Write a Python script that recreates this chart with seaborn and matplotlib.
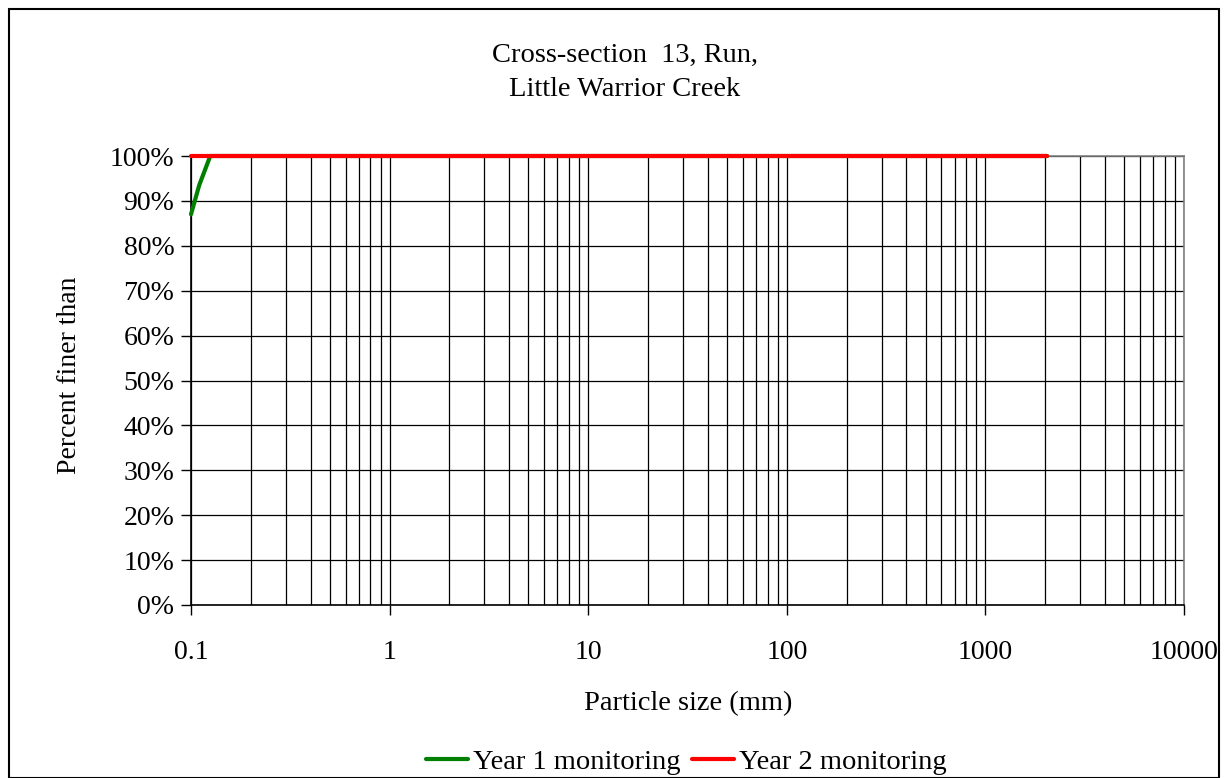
import matplotlib
matplotlib.use("Agg")
import matplotlib.pyplot as plt
import seaborn as sns
import pandas as pd
from matplotlib.ticker import FuncFormatter, LogLocator, FixedLocator
from matplotlib.patches import Rectangle

sns.set_theme(style="white")
plt.rcParams['font.family'] = ['Liberation Serif', 'DejaVu Serif']
plt.rcParams['text.color'] = 'black'
plt.rcParams['xtick.color'] = 'black'
plt.rcParams['ytick.color'] = 'black'
plt.rcParams['axes.labelcolor'] = 'black'

year1_size = [0.1, 0.11, 0.125, 0.25, 2048]
year1_pct = [0.87, 0.935, 1.0, 1.0, 1.0]
year2_size = [0.1, 0.25, 2048]
year2_pct = [1.0, 1.0, 1.0]

df = pd.concat([
    pd.DataFrame({"size": year1_size, "pct": year1_pct, "series": "Year 1 monitoring"}),
    pd.DataFrame({"size": year2_size, "pct": year2_pct, "series": "Year 2 monitoring"}),
])

W, H = 1228, 778
fig = plt.figure(figsize=(W / 100, H / 100), dpi=100)
ax = fig.add_axes([191 / W, 1 - 605 / H, (1184 - 191) / W, (605 - 156) / H])

ax.set_xscale("log")
ax.set_xlim(0.1, 10000)
ax.set_ylim(0, 1.0)

sns.lineplot(data=df, x="size", y="pct", hue="series",
             palette={"Year 1 monitoring": "#008000", "Year 2 monitoring": "#FF0000"},
             linewidth=3, ax=ax, sort=False, estimator=None, legend=True, zorder=5, clip_on=False)

ax.xaxis.set_major_locator(LogLocator(base=10, numticks=10))
ax.xaxis.set_minor_locator(LogLocator(base=10, subs=range(2, 10), numticks=100))
ax.xaxis.set_major_formatter(FuncFormatter(lambda v, p: f"{v:g}"))
ax.xaxis.set_minor_formatter(FuncFormatter(lambda v, p: ""))
ax.yaxis.set_major_locator(FixedLocator([i / 10 for i in range(11)]))
ax.yaxis.set_major_formatter(FuncFormatter(lambda v, p: f"{v*100:.0f}%"))

ax.grid(True, which="both", axis="x", color="black", linewidth=0.9)
ax.grid(True, which="major", axis="y", color="black", linewidth=0.9)

for s in ["left", "bottom"]:
    ax.spines[s].set_color("black")
    ax.spines[s].set_linewidth(1.2)
for s in ["right", "top"]:
    ax.spines[s].set_color("#808080")
    ax.spines[s].set_linewidth(1.2)

ax.tick_params(axis="both", which="major", direction="out", length=7, width=1,
               color="black", labelcolor="black", labelsize=20, left=True, bottom=True, pad=5)
ax.tick_params(axis="x", which="major", pad=18)
ax.tick_params(axis="x", which="minor", length=0)

ax.set_xlabel("")
ax.set_ylabel("")
fig.text(688 / W, 1 - 704 / H, "Particle size (mm)", fontsize=20.5, ha="center", va="center")
fig.text(70 / W, 1 - 375 / H, "Percent finer than", fontsize=20, ha="center", va="center", rotation=90)
fig.text(625 / W, 1 - 55 / H, "Cross-section  13, Run,", fontsize=20.5, ha="center", va="center")
fig.text(625 / W, 1 - 90 / H, "Little Warrior Creek", fontsize=20.5, ha="center", va="center")

leg = ax.legend(loc="center", bbox_to_anchor=(686 / W, 1 - 762 / H), bbox_transform=fig.transFigure,
                ncol=2, frameon=False, fontsize=20.5, handlelength=1.5, handletextpad=0.15,
                columnspacing=0.4, borderpad=0)
for h in leg.get_lines():
    h.set_linewidth(3)
for t in leg.get_texts():
    t.set_color("black")

fig.patches.append(Rectangle((9 / W, 0), 1 - 18 / W, 1 - 9 / H, transform=fig.transFigure,
                             fill=False, edgecolor="black", linewidth=1.5))

fig.savefig("out.png", dpi=100, facecolor="white")
